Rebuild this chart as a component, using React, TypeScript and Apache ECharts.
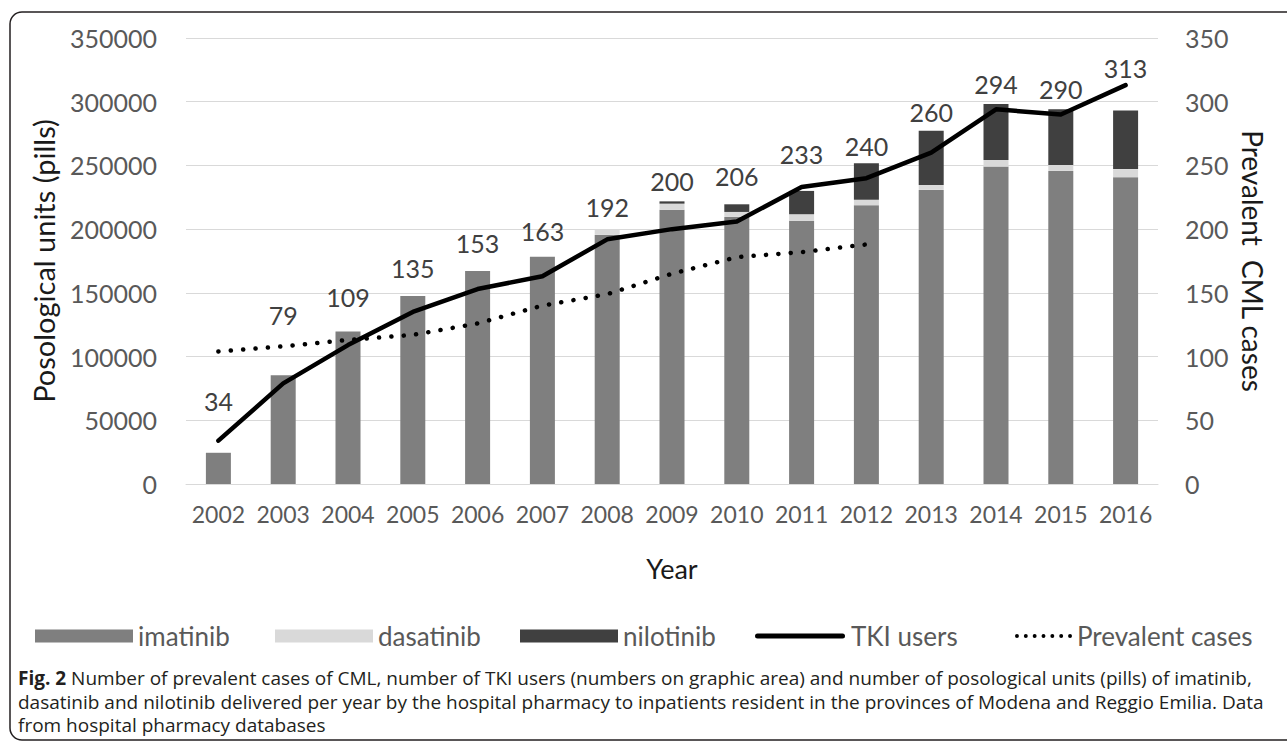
import { useEffect, useRef } from 'react';
import * as echarts from 'echarts';

// Years on the category axis
const years = ['2002', '2003', '2004', '2005', '2006', '2007', '2008', '2009', '2010', '2011', '2012', '2013', '2014', '2015', '2016'];

// Posological units (pills) delivered per year, stacked by drug
const imatinib = [24500, 85300, 119600, 147600, 167200, 178400, 195500, 215300, 209600, 206500, 218800, 230800, 249100, 245700, 240800];
const dasatinib = [0, 0, 0, 0, 0, 0, 4000, 4700, 3900, 5200, 4200, 3900, 5200, 4700, 6300];
const nilotinib = [0, 0, 0, 0, 0, 0, 0, 1800, 6000, 18300, 28800, 42600, 44000, 43700, 46000];

// TKI users (right axis), values printed on the plot area
const tkiUsers = [34, 79, 109, 135, 153, 163, 192, 200, 206, 233, 240, 260, 294, 290, 313];

// Prevalent CML cases (right axis), 2002-2012
const prevalentCases = [104, 108, 113, 117, 126, 140, 149, 165, 178, 182, 188];

// Vertical nudge of each TKI users label relative to its point (px)
const tkiLabelDy = [-40, -68, -48, -44, -46, -45, -32, -48, -45, -33, -32, -41, -25, -25, -17];

const FONT = 'Lato, "Open Sans", sans-serif';
const CAPTION_FONT = '"Open Sans", "Noto Sans", sans-serif';

const captionLines = [
  '{b|Fig. 2} Number of prevalent cases of CML, number of TKI users (numbers on graphic area) and number of posological units (pills) of imatinib,',
  'dasatinib and nilotinib delivered per year by the hospital pharmacy to inpatients resident in the provinces of Modena and Reggio Emilia. Data',
  'from hospital pharmacy databases',
];

// Seven round dots in a row, used as the legend icon of the dotted series
const DOTS_ICON =
  'path://' +
  [0, 1, 2, 3, 4, 5, 6]
    .map((k) => {
      const cx = 2 + k * 9;
      return `M${cx - 2},2 A2,2 0 1,1 ${cx + 2},2 A2,2 0 1,1 ${cx - 2},2 Z`;
    })
    .join(' ');

// Thick bar with rounded ends for the solid line series
const LINE_ICON = 'path://M2.5,0 L87.5,0 A2.5,2.5 0 0,1 87.5,5 L2.5,5 A2.5,2.5 0 0,1 2.5,0 Z';

const LEGEND_TOP = 623;

function legendItem(name: string, left: number, width: number, height: number, icon: string) {
  return {
    data: [{ name, icon }],
    left,
    top: LEGEND_TOP,
    itemWidth: width,
    itemHeight: height,
    itemGap: 0,
    padding: 0,
    textStyle: { fontSize: 26, color: '#595959', fontFamily: FONT },
    selectedMode: false,
  };
}

export default function App() {
  const ref = useRef<HTMLDivElement>(null);

  useEffect(() => {
    const chart = echarts.init(ref.current!, undefined, { renderer: 'svg' });

    const option: echarts.EChartsOption = {
      animation: false,
      backgroundColor: '#ffffff',
      textStyle: { fontFamily: FONT },
      grid: { left: 186, right: 129, top: 38, bottom: 259 },
      legend: [
        legendItem('imatinib', 35, 98, 13, 'rect'),
        legendItem('dasatinib', 275, 98, 13, 'rect'),
        legendItem('nilotinib', 520, 98, 13, 'rect'),
        legendItem('TKI users', 755, 92, 5, LINE_ICON),
        legendItem('Prevalent cases', 1015, 57, 4, DOTS_ICON),
      ],
      xAxis: {
        type: 'category',
        data: years,
        axisLine: { show: true, lineStyle: { color: '#d9d9d9', width: 1 } },
        axisTick: { show: false },
        axisLabel: { fontSize: 23, color: '#595959', margin: 18, fontFamily: FONT, interval: 0 },
        name: 'Year',
        nameLocation: 'middle',
        nameGap: 71,
        nameTextStyle: { fontSize: 27, color: '#1a1a1a', fontFamily: FONT },
      },
      yAxis: [
        {
          type: 'value',
          min: 0,
          max: 350000,
          interval: 50000,
          axisLine: { show: false },
          axisTick: { show: false },
          splitLine: { lineStyle: { color: '#d9d9d9', width: 1 } },
          axisLabel: {
            fontSize: 25,
            color: '#595959',
            margin: 29,
            fontFamily: FONT,
            formatter: (v: number) => String(v),
          },
          name: 'Posological units (pills)',
          nameLocation: 'middle',
          nameGap: 128,
          nameTextStyle: { fontSize: 29, color: '#1a1a1a', fontFamily: FONT },
        },
        {
          type: 'value',
          min: 0,
          max: 350,
          interval: 50,
          position: 'right',
          axisLine: { show: false },
          axisTick: { show: false },
          splitLine: { show: false },
          axisLabel: {
            fontSize: 25,
            color: '#595959',
            margin: 27,
            fontFamily: FONT,
            formatter: (v: number) => String(v),
          },
          name: 'Prevalent  CML cases',
          nameLocation: 'middle',
          nameRotate: -90,
          nameGap: 78,
          nameTextStyle: { fontSize: 28, color: '#1a1a1a', fontFamily: FONT },
        },
      ],
      series: [
        {
          name: 'imatinib',
          type: 'bar',
          stack: 'pills',
          data: imatinib,
          barWidth: 25,
          itemStyle: { color: '#7f7f7f' },
        },
        {
          name: 'dasatinib',
          type: 'bar',
          stack: 'pills',
          data: dasatinib,
          barWidth: 25,
          itemStyle: { color: '#d9d9d9' },
        },
        {
          name: 'nilotinib',
          type: 'bar',
          stack: 'pills',
          data: nilotinib,
          barWidth: 25,
          itemStyle: { color: '#404040' },
        },
        {
          name: 'TKI users',
          type: 'line',
          yAxisIndex: 1,
          data: tkiUsers.map((v, i) => ({ value: v, label: { offset: [0, tkiLabelDy[i]] } })),
          symbol: 'circle',
          symbolSize: 2,
          showSymbol: true,
          itemStyle: { color: '#000000' },
          lineStyle: { color: '#000000', width: 4.5, cap: 'round', join: 'round' },
          label: {
            show: true,
            position: 'inside',
            formatter: '{c}',
            fontSize: 25,
            color: '#404040',
            fontFamily: FONT,
          },
          z: 5,
        },
        {
          name: 'Prevalent cases',
          type: 'line',
          yAxisIndex: 1,
          data: prevalentCases,
          symbol: 'none',
          itemStyle: { color: '#000000' },
          lineStyle: { color: '#000000', width: 4.5, type: [0.1, 12.3], cap: 'round' },
          z: 4,
        },
      ],
      graphic: [
        {
          type: 'rect',
          shape: { x: 10, y: 12, width: 1300, height: 728, r: 12 },
          style: { fill: 'none', stroke: '#231f20', lineWidth: 1.5 },
          silent: true,
        },
        ...captionLines.map((line, i) => ({
          type: 'text' as const,
          x: 18,
          y: 678 + i * 23.5,
          style: {
            text: line,
            fontSize: 19,
            fontFamily: CAPTION_FONT,
            fill: '#231f20',
            verticalAlign: 'middle' as const,
            rich: {
              b: { fontSize: 19, fontWeight: 'bold' as const, fontFamily: CAPTION_FONT, fill: '#231f20' },
            },
          },
          silent: true,
        })),
      ],
    };

    chart.setOption(option);
    return () => chart.dispose();
  }, []);

  return (
    <div
      ref={ref}
      style={{ position: 'fixed', left: 0, top: 0, width: 1287, height: 743, background: '#ffffff' }}
    />
  );
}
